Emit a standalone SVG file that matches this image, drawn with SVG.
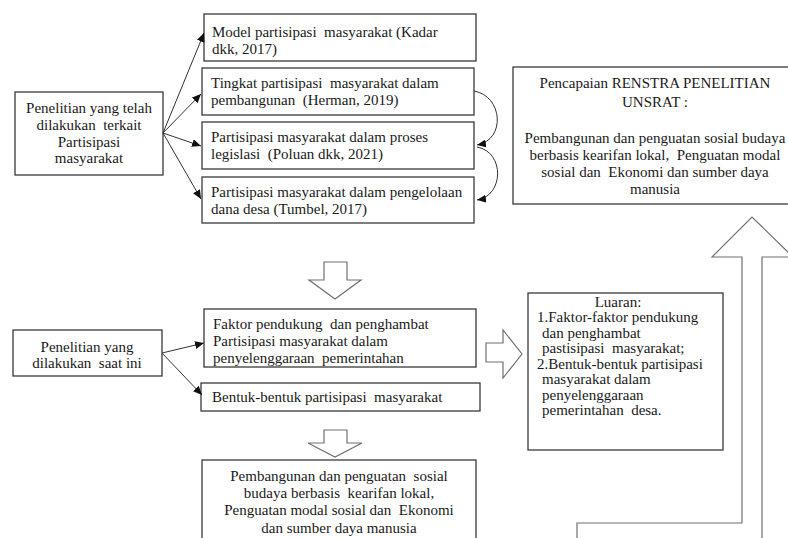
<svg xmlns="http://www.w3.org/2000/svg" width="788" height="538" viewBox="0 0 788 538">
<style>
.box{fill:#fff;stroke:#3a3a3a;stroke-width:1.3}
.t{font-family:'Liberation Serif','Times New Roman',Tinos,'DejaVu Serif',serif;font-size:15px;fill:#1a1a1a;white-space:pre}
.c{text-anchor:middle}
.ha{fill:#fff;stroke:#707070;stroke-width:1.2;stroke-linejoin:miter}
.ln{fill:none;stroke:#333;stroke-width:1}
</style>
<defs>
<marker id="ah" markerUnits="userSpaceOnUse" markerWidth="10" markerHeight="8" refX="9" refY="4" orient="auto">
<path d="M0,0 L9,4 L0,8 Z" fill="#111"/>
</marker>
</defs>
<rect width="788" height="538" fill="#fff"/>

<g id="n-prev" font-family="Liberation Serif, serif">
<rect class="box" x="15" y="92" width="148" height="83"/>
<text class="t c" x="89" y="113">Penelitian yang telah</text>
<text class="t c" x="89" y="130">dilakukan  terkait</text>
<text class="t c" x="89" y="147">Partisipasi</text>
<text class="t c" x="89" y="163">masyarakat</text>
</g>
<g id="n-kadar">
<rect class="box" x="204" y="14" width="272" height="47"/>
<text class="t" x="212" y="37">Model partisipasi  masyarakat (Kadar</text>
<text class="t" x="212" y="54">dkk, 2017)</text>
</g>
<g id="n-herman">
<rect class="box" x="202" y="68" width="272" height="47"/>
<text class="t" x="211" y="88">Tingkat partisipasi  masyarakat dalam</text>
<text class="t" x="211" y="105">pembangunan  (Herman, 2019)</text>
</g>
<g id="n-poluan">
<rect class="box" x="202" y="122" width="272" height="47"/>
<text class="t" x="211" y="142">Partisipasi masyarakat dalam proses</text>
<text class="t" x="211" y="159">legislasi  (Poluan dkk, 2021)</text>
</g>
<g id="n-tumbel">
<rect class="box" x="202" y="177" width="272" height="46"/>
<text class="t" x="211" y="197">Partisipasi masyarakat dalam pengelolaan</text>
<text class="t" x="211" y="214">dana desa (Tumbel, 2017)</text>
</g>
<g id="n-renstra">
<rect class="box" x="513" y="67" width="284" height="137"/>
<text class="t c" x="655" y="88">Pencapaian RENSTRA PENELITIAN</text>
<text class="t c" x="655" y="107">UNSRAT :</text>
<text class="t c" x="655" y="143">Pembangunan dan penguatan sosial budaya</text>
<text class="t c" x="655" y="160">berbasis kearifan lokal,  Penguatan modal</text>
<text class="t c" x="655" y="177">sosial dan  Ekonomi dan sumber daya</text>
<text class="t c" x="655" y="194">manusia</text>
</g>
<g id="n-now">
<rect class="box" x="13" y="330" width="149" height="46"/>
<text class="t c" x="87" y="352">Penelitian yang</text>
<text class="t c" x="87" y="368">dilakukan  saat ini</text>
</g>
<g id="n-faktor">
<rect class="box" x="204" y="309" width="272" height="58"/>
<text class="t" x="213" y="329">Faktor pendukung  dan penghambat</text>
<text class="t" x="213" y="346">Partisipasi masyarakat dalam</text>
<text class="t" x="213" y="363">penyelenggaraan  pemerintahan</text>
</g>
<g id="n-bentuk">
<rect class="box" x="201" y="383" width="279" height="28"/>
<text class="t" x="212" y="402">Bentuk-bentuk partisipasi  masyarakat</text>
</g>
<g id="n-luaran">
<rect class="box" x="528" y="293" width="195" height="157"/>
<text class="t c" x="618" y="307">Luaran:</text>
<text class="t" x="537" y="322">1.Faktor-faktor pendukung</text>
<text class="t" x="542" y="338">dan penghambat</text>
<text class="t" x="542" y="353">pastisipasi  masyarakat;</text>
<text class="t" x="537" y="369">2.Bentuk-bentuk partisipasi</text>
<text class="t" x="542" y="384">masyarakat dalam</text>
<text class="t" x="542" y="400">penyelenggaraan</text>
<text class="t" x="542" y="415">pemerintahan  desa.</text>
</g>
<g id="n-hasil">
<rect class="box" x="202" y="460" width="274" height="90"/>
<text class="t c" x="339" y="481">Pembangunan dan penguatan  sosial</text>
<text class="t c" x="339" y="498">budaya berbasis  kearifan lokal,</text>
<text class="t c" x="339" y="515">Penguatan modal sosial dan  Ekonomi</text>
<text class="t c" x="339" y="533">dan sumber daya manusia</text>
</g>

<g id="connectors">
<path class="ln" d="M163,133 L204,33" marker-end="url(#ah)"/>
<path class="ln" d="M163,133 L201,94" marker-end="url(#ah)"/>
<path class="ln" d="M163,133 L201,146" marker-end="url(#ah)"/>
<path class="ln" d="M163,133 L201,199" marker-end="url(#ah)"/>
<path class="ln" d="M474,91 C503,96 506,140 477,145" marker-end="url(#ah)"/>
<path class="ln" d="M477,147 C505,152 504,196 477,200" marker-end="url(#ah)"/>
<path class="ln" d="M162,353 L204,343" marker-end="url(#ah)"/>
<path class="ln" d="M162,353 L202,395" marker-end="url(#ah)"/>
<polygon class="ha" points="324,262 347,262 347,280 361,280 335,299 309,280 324,280"/>
<polygon class="ha" points="486,343 503,343 503,330 522,354 503,378 503,362 486,362"/>
<polygon class="ha" points="324,430 347,430 347,443 362,443 335,457 308,443 324,443"/>
<path class="ha" d="M577,540 V523 H742 V257 H712 L752,217 L793,257 H762 V540"/>
</g>
</svg>
